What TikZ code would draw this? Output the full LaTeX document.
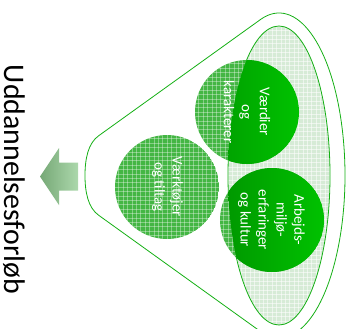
\documentclass[tikz,border=0pt]{standalone}
\usepackage{fontspec}
\setmainfont{Carlito}
\definecolor{lineg}{RGB}{20,175,20}
\definecolor{patg}{RGB}{68,182,68}
\definecolor{lightg}{RGB}{214,235,214}
\definecolor{solidL}{RGB}{0,150,0}
\definecolor{solidR}{RGB}{0,194,0}
\definecolor{arrL}{RGB}{118,168,118}
\definecolor{arrR}{RGB}{172,216,172}
\newcommand\patcirc[2]{%
  \begin{scope}
    \clip (#1,#2) circle[radius=52];
    \fill[patg] (#1,#2) circle[radius=52];
    \foreach \k in {-12,...,12}{
      \draw[gridln] (#1+\k*4.4,#2-53) -- ++(0,106);
      \draw[gridln] (#1-53,#2+\k*4.4) -- ++(106,0);
    }
  \end{scope}}
\newcommand\solidcirc[2]{%
  \begin{scope}
    \clip (279,175.5) ellipse[x radius=51,y radius=149.5];
    \shade[left color=solidL,right color=solidR] (#1,#2) circle[radius=52];
  \end{scope}}
\begin{document}
\begin{tikzpicture}[x=1bp,y=-1bp,
  outl/.style={draw=lineg,line width=0.8bp},
  ctext/.style={text=white,font=\fontsize{15}{18}\selectfont,align=center,rotate=-90,inner sep=0pt},
  gridln/.style={draw=white,line width=0.45bp,opacity=0.35}]
\useasboundingbox (0,0) rectangle (358,329);
\clip (0,0) rectangle (358,329);

% funnel outline
\draw[outl] (99,135.5) -- (260.8,19.3)
  arc[start angle=-106,end angle=106,x radius=66,y radius=162.5]
  -- (99,215.5) .. controls (88,208) and (85,192) .. (85,175.5)
  .. controls (85,159) and (88,143) .. cycle;

% inner ellipse
\begin{scope}
  \clip (279,175.5) ellipse[x radius=51,y radius=149.5];
  \fill[lightg] (226,24) rectangle (332,327);
  \foreach \k in {0,...,24}{
    \draw[gridln,opacity=0.55] (228+\k*4.4,24) -- ++(0,304);
  }
  \foreach \k in {0,...,70}{
    \draw[gridln,opacity=0.55] (226,26+\k*4.4) -- ++(106,0);
  }
\end{scope}
\draw[outl] (279,175.5) ellipse[x radius=51,y radius=149.5];

% circles
\patcirc{247}{112}
\patcirc{167}{187}
\patcirc{272}{220}
\solidcirc{247}{112}
\solidcirc{272}{220}

% arrow
\shade[left color=arrL,right color=arrR] (40,176.5) -- (59,148) -- (59,162.5)
  -- (78,162.5) -- (78,190.5) -- (59,190.5) -- (59,205) -- cycle;

% texts
\node[rotate=-90,anchor=base,font=\fontsize{30}{36}\selectfont,inner sep=0pt] (title) at (4,179.5) {Uddannelsesforløb};
\node[ctext] (t1) at (247,112) {Værdier\\og\\karakterer};
\node[ctext] (t2) at (167.5,187) {Værktøjer\\og tiltag};
\node[ctext] (t3) at (271.5,220) {Arbejds-\\miljø-\\erfaringer\\og kultur};
\end{tikzpicture}
\end{document}
